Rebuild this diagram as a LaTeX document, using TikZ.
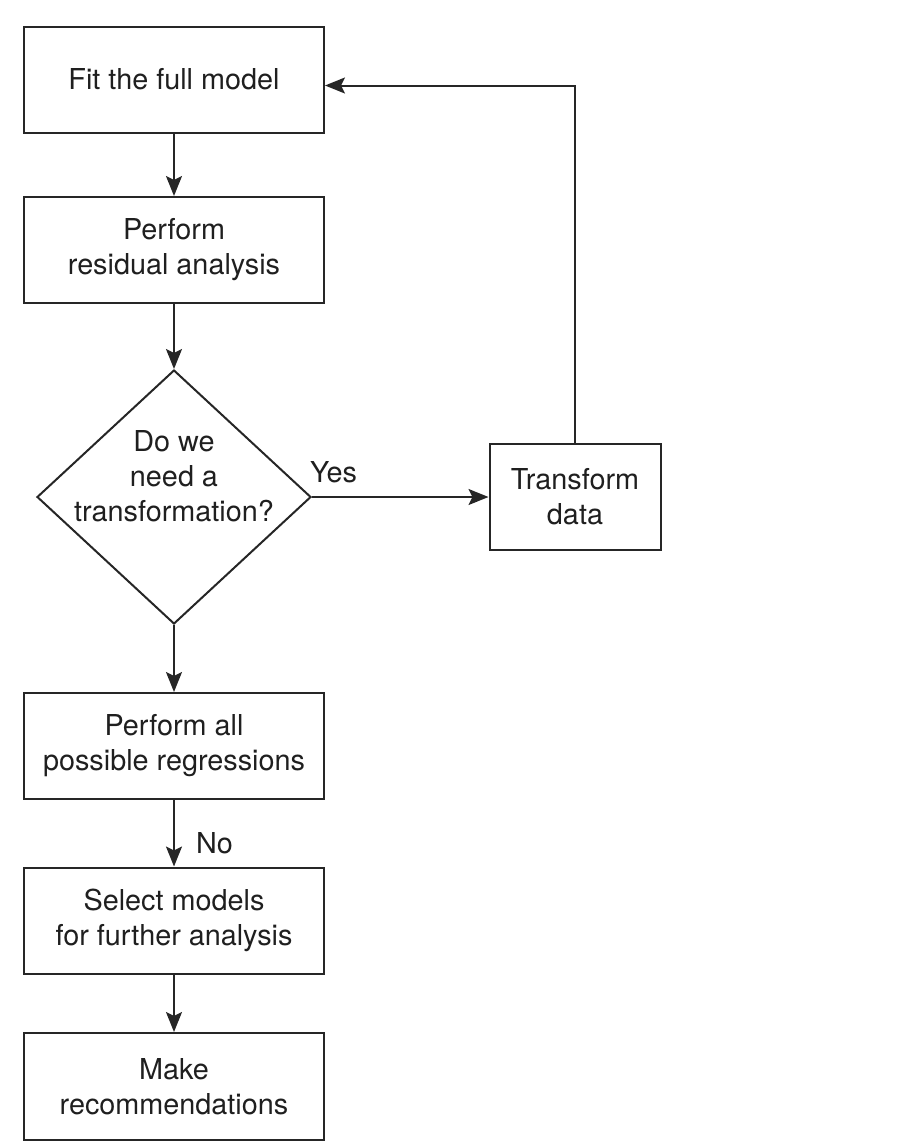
\documentclass[tikz,border=0pt]{standalone}
\usepackage{fontspec}
\setmainfont{TeX Gyre Heros}
\usetikzlibrary{shapes.geometric,arrows.meta}

\tikzset{
  step box/.style={draw=black!85, line width=1pt, minimum width=150pt,
    minimum height=53pt, align=center, inner sep=0pt},
  decision/.style={draw=black!85, line width=1pt, diamond, inner sep=0pt,
    minimum width=137pt, minimum height=127pt},
  arr/.style={draw=black!85, line width=1pt,
    -{Stealth[length=10pt, width=8pt, inset=2pt]}},
  lbl/.style={inner sep=0pt, anchor=base west}
}

\begin{document}
\begin{tikzpicture}[x=0.5pt, y=-0.5pt,
  font=\fontsize{14.4}{17.5}\selectfont, text=black!88]

  \useasboundingbox (0,0) rectangle (922,1146);

  % main column
  \node[step box] (fit) at (174,79.5) {Fit the full model};
  \node[step box] (resid) at (174,250) {Perform\\residual analysis};
  \node[decision] (dec) at (174,497) {};
  \node[align=center, inner sep=0pt] (dectext) at (174,476)
    {Do we\\need a\\transformation?};
  \node[step box] (regr) at (174,746) {Perform all\\possible regressions};
  \node[step box] (select) at (174,920.5) {Select models\\for further analysis};
  \node[step box, minimum height=53.5pt] (recomm) at (174,1086.5)
    {Make\\recommendations};

  % side branch
  \node[step box, minimum width=85.5pt] (trans) at (575,497) {Transform\\data};

  \draw[arr] (fit) -- (resid);
  \draw[arr] (resid) -- (dec.north);
  \draw[arr] (dec.east) -- node[lbl, pos=0, xshift=-1.5pt, yshift=7.5pt] (yes) {Yes} (trans);
  \draw[arr] (trans.north) |- ([yshift=-3pt]fit.east); % loop back
  \draw[arr] (dec.south) -- (regr);
  \draw[arr] (regr) -- node[lbl, xshift=10.5pt, yshift=-10pt] (no) {No} (select);
  \draw[arr] (select) -- (recomm);

\end{tikzpicture}
\end{document}
